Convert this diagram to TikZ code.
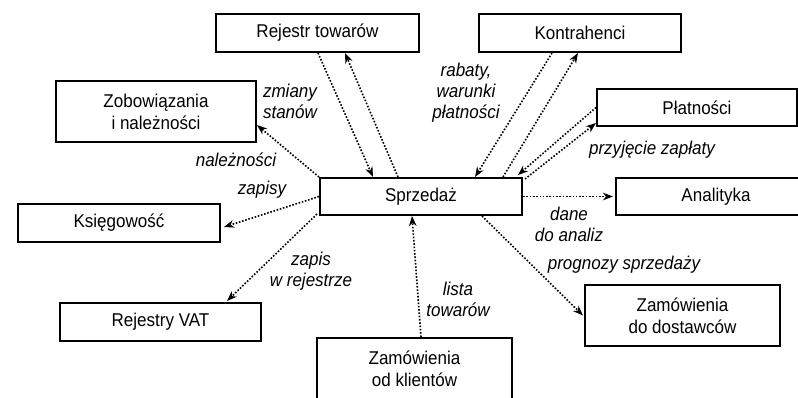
\documentclass[tikz,border=0pt]{standalone}
\usepackage{fontspec}
\setmainfont[FakeStretch=0.92]{Liberation Sans}
\usetikzlibrary{arrows.meta,calc}
\begin{document}
\begin{tikzpicture}[x=1pt,y=-1pt,
  box/.style={draw, line width=2pt, inner sep=0pt, align=center,
    font=\fontsize{18.5}{22}\selectfont, minimum height=38pt},
  tall/.style={minimum height=61pt},
  flow/.style={line width=1.6pt, dash pattern=on 1.6pt off 1.7pt,
    -{Stealth[length=10pt,width=7.5pt,inset=3pt]}},
  lbl/.style={inner sep=0pt, font=\fontsize{18.5}{21}\selectfont\itshape}]
\useasboundingbox (0,0) rectangle (798,397);

% modules
\node[box, minimum width=203pt] (rej) at (317.5,33) {Rejestr towarów};
\node[box, minimum width=202pt] (kon) at (580,33) {Kontrahenci};
\node[box, tall, minimum width=200pt] (zob) at (156,111.5) {Zobowiązania\\i należności};
\node[box, minimum width=200pt, minimum height=37pt] (pla) at (697,107.5) {Płatności};
\node[box, minimum width=202pt] (ksi) at (119,223) {Księgowość};
\node[box, minimum width=202pt, minimum height=37pt] (spr) at (421,196.5) {Sprzedaż};
\node[box, minimum width=200pt, minimum height=37pt] (ana) at (716,196.5) {Analityka};
\node[box, tall, minimum width=195pt] (zdo) at (682.5,315.5) {Zamówienia\\do dostawców};
\node[box, minimum width=201pt] (vat) at (160.5,322) {Rejestry VAT};
\node[box, tall, minimum width=195pt] (zkl) at (414.5,368.5) {Zamówienia\\od klientów};

% data flows
\draw[flow] ($(rej.south)+(0.5,0)$) -- ($(spr.north)+(-48,0)$);
\draw[flow] ($(spr.north)+(-23,0)$) -- ($(rej.south)+(27.5,0)$);
\draw[flow] (spr.north west) -- ($(zob.east)+(0,13.5)$);
\draw[flow] (spr.west) -- ($(ksi.east)+(3,4)$);
\draw[flow] ($(spr.south west)+(-2,-2)$) -- ($(vat.north)+(66.5,-1)$);
\draw[flow] ($(zkl.north)+(6.5,0)$) -- ($(spr.south)+(-9,0)$);
\draw[flow] ($(spr.south)+(61,0)$) -- ($(zdo.west)+(-1,0)$);
\draw[flow] (spr.east) -- ($(ana.west)+(-2,0)$);
\draw[flow] ($(kon.south)+(-28,0)$) -- ($(spr.north)+(54,0)$);
\draw[flow] ($(spr.north)+(82,0)$) -- ($(kon.south)+(-2,0)$);
\draw[flow] (pla.west) -- ($(spr.north east)+(-5,-2)$);
\draw[flow] ($(spr.north east)+(2,2)$) -- ($(pla.south west)+(0,-4)$);

% flow labels
\node[lbl, align=left] (l1) at (290,101) {zmiany\\stanów};
\node[lbl, align=center] (l2) at (466,93) {rabaty,\\warunki\\płatności};
\node[lbl] (l3) at (652,150) {przyjęcie zapłaty};
\node[lbl] (l4) at (236,160) {należności};
\node[lbl] (l5) at (262,190) {zapisy};
\node[lbl, align=center] (l6) at (311,271) {zapis\\w rejestrze};
\node[lbl, align=center] (l7) at (458,299) {lista\\towarów};
\node[lbl, align=center] (l8) at (569,224) {dane\\do analiz};
\node[lbl] (l9) at (624,265) {prognozy sprzedaży};
\end{tikzpicture}
\end{document}
